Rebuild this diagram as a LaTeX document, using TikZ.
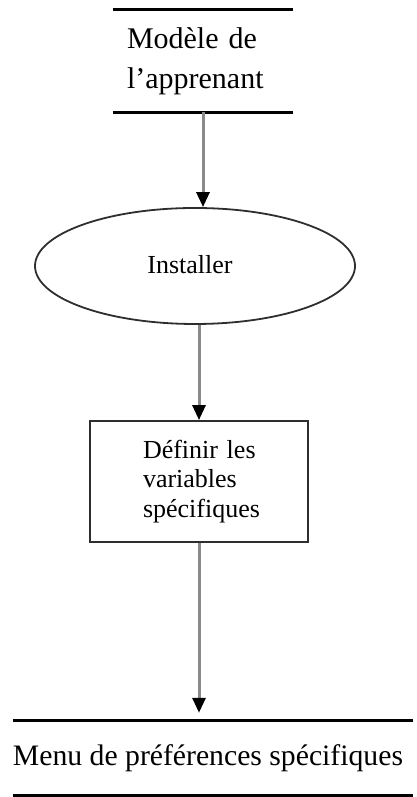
\documentclass[tikz,border=0pt]{standalone}
\usepackage{fontspec}
\setmainfont{Liberation Serif}
\usetikzlibrary{arrows.meta,shapes.geometric}
\definecolor{shaft}{HTML}{8A8A8A}
\definecolor{edge}{HTML}{2E2E2E}
\tikzset{
  store/.style={minimum height=#1, inner sep=0pt},
  storeline/.style={line width=3pt, black},
  process/.style={ellipse, draw=edge, line width=1.8pt, inner sep=0pt},
  taskbox/.style={rectangle, draw=edge, line width=1.8pt, inner sep=0pt},
  flow/.style={draw=shaft, line width=3pt,
    -{Triangle[width=13pt,length=15pt,black]}},
}
\begin{document}
\begin{tikzpicture}[x=1pt,y=1pt]
\useasboundingbox (0,0) rectangle (416,797);

% learner model (data store)
\node[store=102pt, minimum width=180pt, text width=152pt, align=left,
      font=\fontsize{30}{40}\selectfont] (model) at (203,736)
  {Modèle de\\l’apprenant};
\draw[storeline] (model.north west) -- (model.north east);
\draw[storeline] (model.south west) -- (model.south east);

% install process (label sits a little left of centre)
\node[process, minimum width=320pt, minimum height=116pt,
      font=\fontsize{26}{30}\selectfont] (inst) at (195,531)
  {\raisebox{3pt}{\hspace*{-10pt}Installer}};

% define specific variables
\node[taskbox, minimum width=218pt, minimum height=121pt, text width=112pt,
      align=left, font=\fontsize{26}{29.5}\selectfont] (def) at (199,315.5)
  {Définir~les\\variables\\spécifiques};

% specific preferences menu (data store)
\node[store=74pt, minimum width=400pt,
      font=\fontsize{29.7}{34}\selectfont] (menu) at (213,39)
  {\hspace*{-10pt}Menu de préférences spécifiques};
\draw[storeline] (menu.north west) -- (menu.north east);
\draw[storeline] (menu.south west) -- (menu.south east);

% connectors
\draw[flow] (model.south) -- (model.south |- inst.north);
\draw[flow] (def.north |- inst.south) -- (def.north);
\draw[flow, shorten >=8pt] (def.south) -- (def.south |- menu.north);
\end{tikzpicture}
\end{document}
